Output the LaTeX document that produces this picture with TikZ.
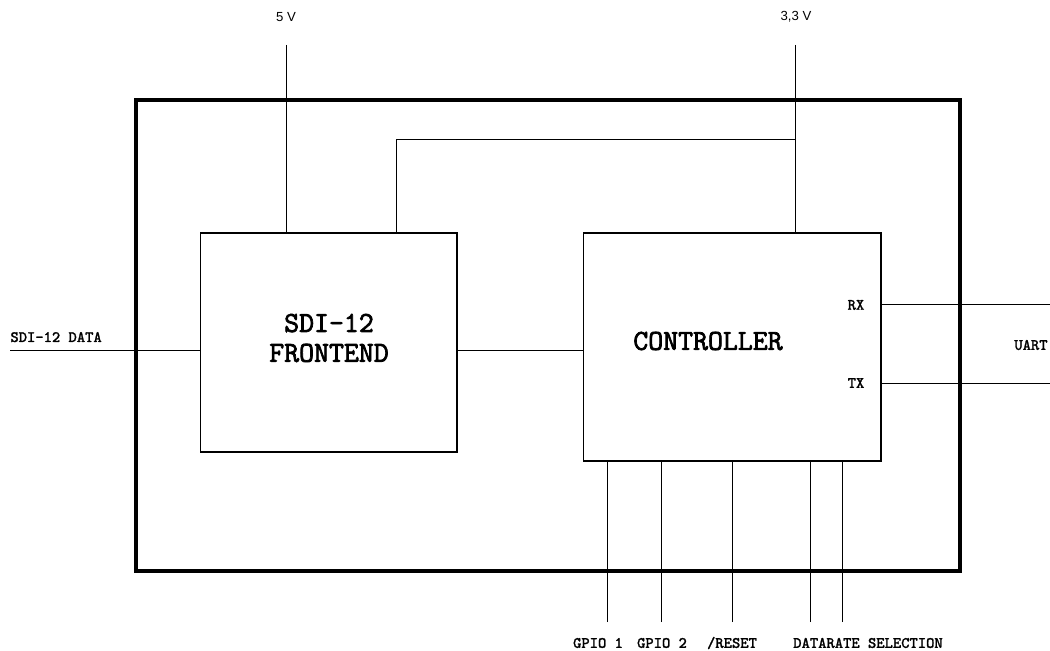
\documentclass[tikz,border=0pt]{standalone}
\usepackage{fontspec}
\newfontfamily\voltfont{Liberation Sans}
\newfontfamily\titlefont{Latin Modern Mono}[FakeBold=2.5]
\newfontfamily\pinfont{Latin Modern Mono}[FakeBold=1.5]
\begin{document}
\begin{tikzpicture}[x=0.02cm,y=-0.02cm,line width=0.5pt,
  block/.style={draw,line width=0.6pt,inner sep=0pt},
  title/.style={font=\fontsize{16.5}{17}\selectfont\titlefont,align=center},
  pin/.style={font=\fontsize{9}{10}\selectfont\pinfont,inner sep=0pt},
  volt/.style={font=\fontsize{7.5}{9}\selectfont\voltfont,inner sep=0pt}]
 \useasboundingbox (0,0) rectangle (1050,651);
 % module frame
 \draw[line width=1.8pt] (136,100) rectangle (960,571);
 % blocks
 \node[block,minimum width=5.14cm,minimum height=4.38cm] (fe) at (328.5,342.5) {};
 \node[block,minimum width=5.96cm,minimum height=4.56cm] (ctl) at (732,347) {};
 \node[title] (fetxt) at (329,338) {SDI-12\\FRONTEND};
 \node[title] (ctltxt) at (708,341) {CONTROLLER};
 % supply
 \coordinate (v5) at (286,45);
 \coordinate (v33) at (795,45);
 \coordinate (br) at (795,139);
 \coordinate (fein) at (396,233);
 \node[volt] (v5lbl) at (286,17) {5 V};
 \node[volt] (v33lbl) at (796,17) {3,3 V};
 \draw (v5) -- (v5 |- fe.north);
 \draw (v33) -- (v33 |- ctl.north);
 \draw (br) -| (fein);
 % data path
 \coordinate (sdi) at (10,350);
 \node[pin,anchor=base west] (sdilbl) at (10,342) {SDI-12 DATA};
 \draw (sdi) -- (fe.west |- sdi);
 \draw (fe.east |- sdi) -- (ctl.west |- sdi);
 % uart
 \coordinate (rx) at (1050,304);
 \coordinate (tx) at (1050,383);
 \draw (ctl.east |- rx) -- (rx);
 \draw (ctl.east |- tx) -- (tx);
 \node[pin] (rxlbl) at (856,305) {RX};
 \node[pin] (txlbl) at (856,383) {TX};
 \node[pin,anchor=east] (uart) at (1048,345) {UART};
 % control pins
 \foreach \x/\n in {607/g1,661/g2,732/rst,810/dra,842/drb} {
   \coordinate (p\n) at (\x,622);
   \draw (p\n) -- (p\n |- ctl.south);
 }
 \node[pin] (g1lbl) at (598,643) {GPIO 1};
 \node[pin] (g2lbl) at (662,643) {GPIO 2};
 \node[pin] (rstlbl) at (732,643) {/RESET};
 \node[pin] (drlbl) at (868,643) {DATARATE SELECTION};
\end{tikzpicture}
\end{document}
